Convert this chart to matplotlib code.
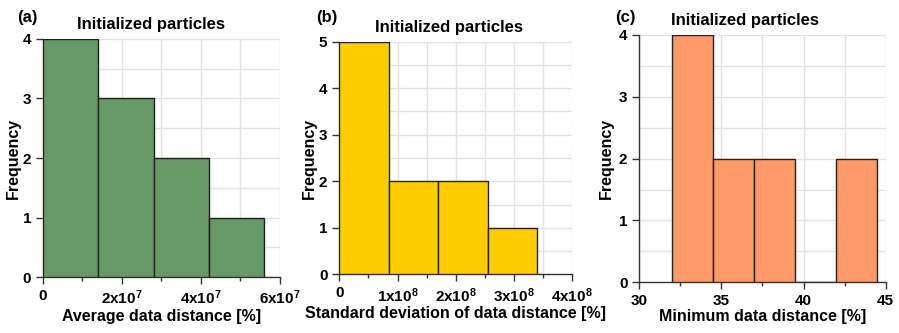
import numpy as np
import matplotlib
matplotlib.use("Agg")
import matplotlib.pyplot as plt
from matplotlib.ticker import MultipleLocator

plt.rcParams['font.family'] = ['Liberation Sans', 'DejaVu Sans']
plt.rcParams['font.weight'] = 'bold'
plt.rcParams['mathtext.default'] = 'regular'

# histogram data (bin edges + counts)
edges_a = [0, 1.4e7, 2.8e7, 4.2e7, 5.6e7]
counts_a = [4, 3, 2, 1]
edges_b = [0, 0.85e8, 1.70e8, 2.55e8, 3.40e8]
counts_b = [5, 2, 2, 1]
edges_c = [32, 34.5, 37, 39.5, 42, 44.5]
counts_c = [4, 2, 2, 0, 2]

xticks_a = [0, 2e7, 4e7, 6e7]
xlabels_a = ['0', r'2x10$^{7}$', r'4x10$^{7}$', r'6x10$^{7}$']
xticks_b = [0, 1e8, 2e8, 3e8, 4e8]
xlabels_b = ['0', r'1x10$^{8}$', r'2x10$^{8}$', r'3x10$^{8}$', r'4x10$^{8}$']
xticks_c = [30, 35, 40, 45]
xlabels_c = ['30', '35', '40', '45']

panels = [
    dict(pos=[0.0478, 0.168, 0.2636, 0.715], edges=edges_a, counts=counts_a, color='#669966',
         xlim=(0, 6e7), ymax=4, minor=1e7, xticks=xticks_a, xlabels=xlabels_a,
         xlabel='Average data distance [%]', tag='(a)', tagx=17, titlex=151, ylx=14),
    dict(pos=[0.3774, 0.1763, 0.2592, 0.6985], edges=edges_b, counts=counts_b, color='#ffcc00',
         xlim=(0, 4e8), ymax=5, minor=0.5e8, xticks=xticks_b, xlabels=xlabels_b,
         xlabel='Standard deviation of data distance [%]', tag='(b)', tagx=316, titlex=449, ylx=310),
    dict(pos=[0.7111, 0.1523, 0.2741, 0.7426], edges=edges_c, counts=counts_c, color='#ff9966',
         xlim=(30, 45), ymax=4, minor=2.5, xticks=xticks_c, xlabels=xlabels_c,
         xlabel='Minimum data distance [%]', tag='(c)', tagx=615, titlex=745, ylx=607),
]

W, H = 899, 333
fig = plt.figure(figsize=(W / 100, H / 100), dpi=100)

for p in panels:
    ax = fig.add_axes(p['pos'])
    e = np.array(p['edges'])
    ax.bar(e[:-1], p['counts'], width=np.diff(e), align='edge', color=p['color'],
           edgecolor='#222222', linewidth=1.0, zorder=3)
    ax.set_xlim(*p['xlim'])
    ax.set_ylim(0, p['ymax'])
    ax.set_xticks(p['xticks'])
    ax.set_xticklabels(p['xlabels'])
    ax.xaxis.set_minor_locator(MultipleLocator(p['minor']))
    ax.yaxis.set_major_locator(MultipleLocator(1))
    ax.yaxis.set_minor_locator(MultipleLocator(0.5))
    ax.grid(True, which='both', color='#e2e2e2', linewidth=1.0, zorder=0)
    ax.set_axisbelow(True)
    for s in ['top', 'right']:
        ax.spines[s].set_visible(False)
    for s in ['left', 'bottom']:
        ax.spines[s].set_color('#333333')
        ax.spines[s].set_linewidth(1.0)
    ax.tick_params(which='major', length=5, width=1, color='#333333', labelsize=11)
    ax.tick_params(axis='x', which='minor', length=3, width=1, color='#333333')
    ax.tick_params(axis='y', which='minor', length=0)
    ax.set_xlabel(p['xlabel'], fontsize=11.5, fontweight='bold', labelpad=1)
    ax.set_ylabel('Frequency', fontsize=11.5, fontweight='bold')
    # y label anchor is its right edge (rotated text): centre + ~7 px
    x0 = p['pos'][0] * W
    ax.yaxis.set_label_coords((p['ylx'] + 7 - x0) / (p['pos'][2] * W), 0.5)
    # title slightly left of axes centre, like the original
    tx = (p['titlex'] - x0) / (p['pos'][2] * W)
    ax.set_title('Initialized particles', fontsize=12, fontweight='bold', x=tx, pad=7)
    fig.text(p['tagx'] / W, 1 - 22 / H, p['tag'], fontsize=12, fontweight='bold',
             ha='left', va='baseline')

fig.savefig('out.png', dpi=100)
